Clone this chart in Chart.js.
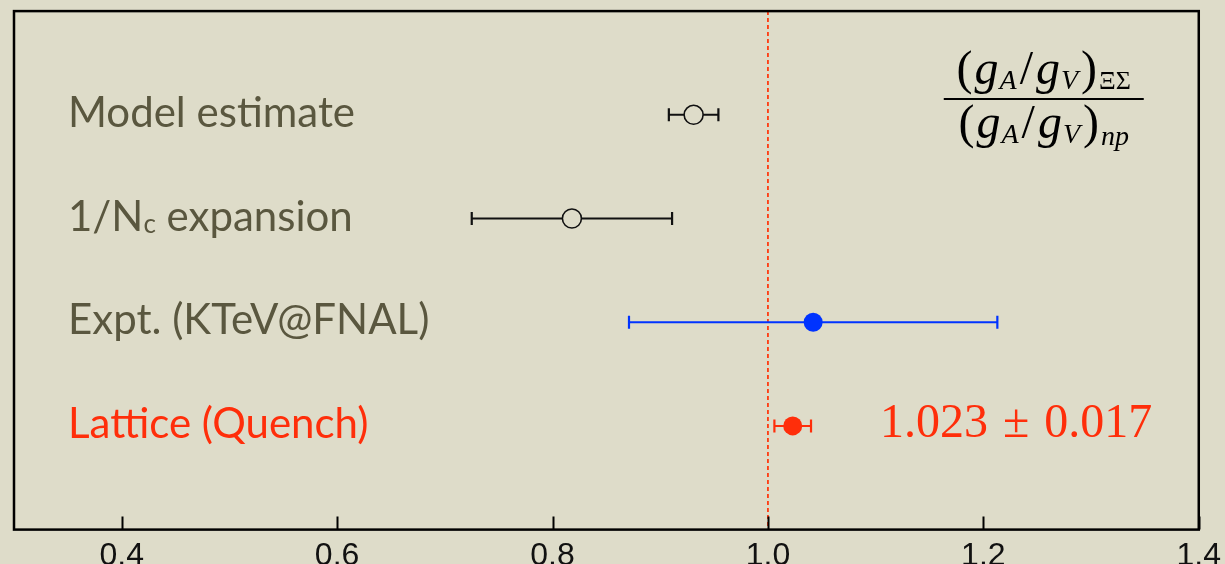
<!DOCTYPE html>
<html>
<head>
<meta charset="utf-8">
<script src="https://cdn.jsdelivr.net/npm/chart.js@4.4.1/dist/chart.umd.min.js"></script>
<style>
  html, body { margin: 0; padding: 0; background: #dedcc9; overflow: hidden; }
  #wrap { position: relative; width: 1228px; height: 582px; }
</style>
</head>
<body>
<div id="wrap"><canvas id="c"></canvas></div>
<script>
// Ratio of axial couplings, (gA/gV)_ΞΣ / (gA/gV)_np, from four determinations
const categories = ['Model estimate', '1/Nc expansion', 'Expt. (KTeV@FNAL)', 'Lattice (Quench)'];
const rows = [4, 3, 2, 1];
const centers = [0.931, 0.818, 1.042, 1.023];
const errors = [0.023, 0.093, 0.171, 0.017];
const tickValues = [0.4, 0.6, 0.8, 1.0, 1.2, 1.4];
const referenceLine = 1.0;
const latticeResult = { value: '1.023', err: '0.017' };

const BG = '#dedcc9';
const OLIVE = '#5a573f';
const RED = '#ff2e0a';
const BLUE = '#0033ff';

const styles = [
  { color: '#111111', fill: BG, labelColor: OLIVE },
  { color: '#111111', fill: BG, labelColor: OLIVE },
  { color: BLUE, fill: BLUE, labelColor: OLIVE },
  { color: RED, fill: RED, labelColor: RED }
];

const datasets = categories.map((name, i) => ({
  label: name,
  data: [{ x: centers[i], y: rows[i], err: errors[i] }],
  pointRadius: 9.5,
  pointHoverRadius: 9.5,
  pointBorderWidth: i < 2 ? 1.6 : 0,
  pointBorderColor: styles[i].color,
  pointBackgroundColor: styles[i].fill,
  errColor: styles[i].color
}));

// background, reference line, error bars (under the markers)
const underlay = {
  id: 'underlay',
  beforeDraw(chart) {
    const { ctx, width, height } = chart;
    ctx.save();
    ctx.fillStyle = BG;
    ctx.fillRect(0, 0, width, height);
    ctx.restore();
  },
  beforeDatasetsDraw(chart) {
    const { ctx, chartArea: a, scales: { x, y } } = chart;
    ctx.save();
    // dashed line at unity
    const px = x.getPixelForValue(referenceLine);
    ctx.strokeStyle = '#ff3a10';
    ctx.lineWidth = 1.8;
    ctx.setLineDash([4, 3]);
    ctx.beginPath();
    ctx.moveTo(px, a.top);
    ctx.lineTo(px, a.bottom);
    ctx.stroke();
    ctx.setLineDash([]);
    // horizontal error bars with caps
    chart.data.datasets.forEach(ds => {
      ds.data.forEach(p => {
        const x0 = x.getPixelForValue(p.x - p.err);
        const x1 = x.getPixelForValue(p.x + p.err);
        const py = y.getPixelForValue(p.y);
        ctx.strokeStyle = ds.errColor;
        ctx.lineWidth = 2;
        ctx.beginPath();
        ctx.moveTo(x0, py); ctx.lineTo(x1, py);
        ctx.stroke();
        ctx.lineWidth = 2.2;
        ctx.beginPath();
        ctx.moveTo(x0, py - 6.5); ctx.lineTo(x0, py + 6.5);
        ctx.moveTo(x1, py - 6.5); ctx.lineTo(x1, py + 6.5);
        ctx.stroke();
      });
    });
    ctx.restore();
  }
};

function drawPieces(ctx, pieces, startX, baseline, align) {
  let total = 0;
  pieces.forEach(p => { ctx.font = p.font; p.w = ctx.measureText(p.t).width; total += p.w + (p.gap || 0); });
  let cx = align === 'center' ? startX - total / 2 : startX;
  pieces.forEach(p => {
    ctx.font = p.font;
    ctx.fillText(p.t, cx, baseline + (p.dy || 0));
    cx += p.w + (p.gap || 0);
  });
  return total;
}

// frame, inward ticks, row labels and annotations
const overlay = {
  id: 'overlay',
  afterDraw(chart) {
    const { ctx, chartArea: a, scales: { x, y } } = chart;
    ctx.save();
    ctx.strokeStyle = '#000';
    ctx.lineWidth = 2.5;
    ctx.strokeRect(a.left, a.top, a.right - a.left, a.bottom - a.top);
    ctx.lineWidth = 2;
    ctx.beginPath();
    tickValues.forEach(v => {
      const px = Math.round(x.getPixelForValue(v)) + 0.5;
      ctx.moveTo(px, a.bottom);
      ctx.lineTo(px, a.bottom - 13);
    });
    ctx.stroke();

    // row labels
    ctx.textBaseline = 'alphabetic';
    ctx.textAlign = 'left';
    const big = '42px Lato';
    const small = '26px Lato';
    categories.forEach((name, i) => {
      const base = y.getPixelForValue(rows[i]) + 12;
      ctx.fillStyle = styles[i].labelColor;
      if (name === '1/Nc expansion') {
        drawPieces(ctx, [
          { t: '1/N', font: big },
          { t: 'c', font: small, dy: 2 },
          { t: ' expansion', font: big }
        ], a.left + 54, base, 'left');
      } else {
        ctx.font = big;
        ctx.fillText(name, a.left + 54, base);
      }
    });

    // lattice value
    ctx.fillStyle = RED;
    const lb = y.getPixelForValue(rows[3]) + 11;
    const f = '48px "Liberation Serif"';
    drawPieces(ctx, [
      { t: latticeResult.value, font: f, gap: 15 },
      { t: '±', font: f, gap: 15 },
      { t: latticeResult.err, font: f }
    ], a.left + 866, lb, 'left');

    // ratio formula
    ctx.fillStyle = '#000';
    const cx = a.right - 155;
    const m = '48px "Liberation Serif"';
    const mi = 'italic 48px "Liberation Serif"';
    const si = 'italic 28px "Liberation Serif"';
    const sr = '26px "Liberation Serif"';
    const row = last => [
      { t: '(', font: m, gap: 2 }, { t: 'g', font: mi, gap: 1 }, { t: 'A', font: si, dy: 5, gap: 3 },
      { t: '/', font: m, gap: 3 }, { t: 'g', font: mi, gap: 1 }, { t: 'V', font: si, dy: 5, gap: 3 },
      { t: ')', font: m, gap: 2 }, last
    ];
    drawPieces(ctx, row({ t: 'ΞΣ', font: sr, dy: 5 }), cx, a.top + 73, 'center');
    drawPieces(ctx, row({ t: 'np', font: si, dy: 7 }), cx, a.top + 127, 'center');
    ctx.lineWidth = 2;
    ctx.beginPath();
    ctx.moveTo(cx - 100, a.top + 88);
    ctx.lineTo(cx + 100, a.top + 88);
    ctx.stroke();
    ctx.restore();
  }
};

new Chart(document.getElementById('c'), {
  type: 'scatter',
  data: { datasets },
  options: {
    responsive: true,
    maintainAspectRatio: false,
    animation: false,
    layout: { padding: { left: 14, top: 11, right: 26, bottom: 0 } },
    plugins: { legend: { display: false }, tooltip: { enabled: false } },
    scales: {
      x: {
        type: 'linear',
        min: 0.3,
        max: 1.4,
        afterBuildTicks(scale) { scale.ticks = tickValues.map(v => ({ value: v })); },
        grid: { display: false, drawTicks: false },
        border: { display: false },
        ticks: {
          padding: 7,
          color: '#111',
          font: { family: '"Liberation Sans"', size: 32 },
          callback: v => Number(v).toFixed(1)
        }
      },
      y: { type: 'linear', min: 0, max: 5, display: false }
    }
  },
  plugins: [underlay, overlay]
});
</script>
</body>
</html>
